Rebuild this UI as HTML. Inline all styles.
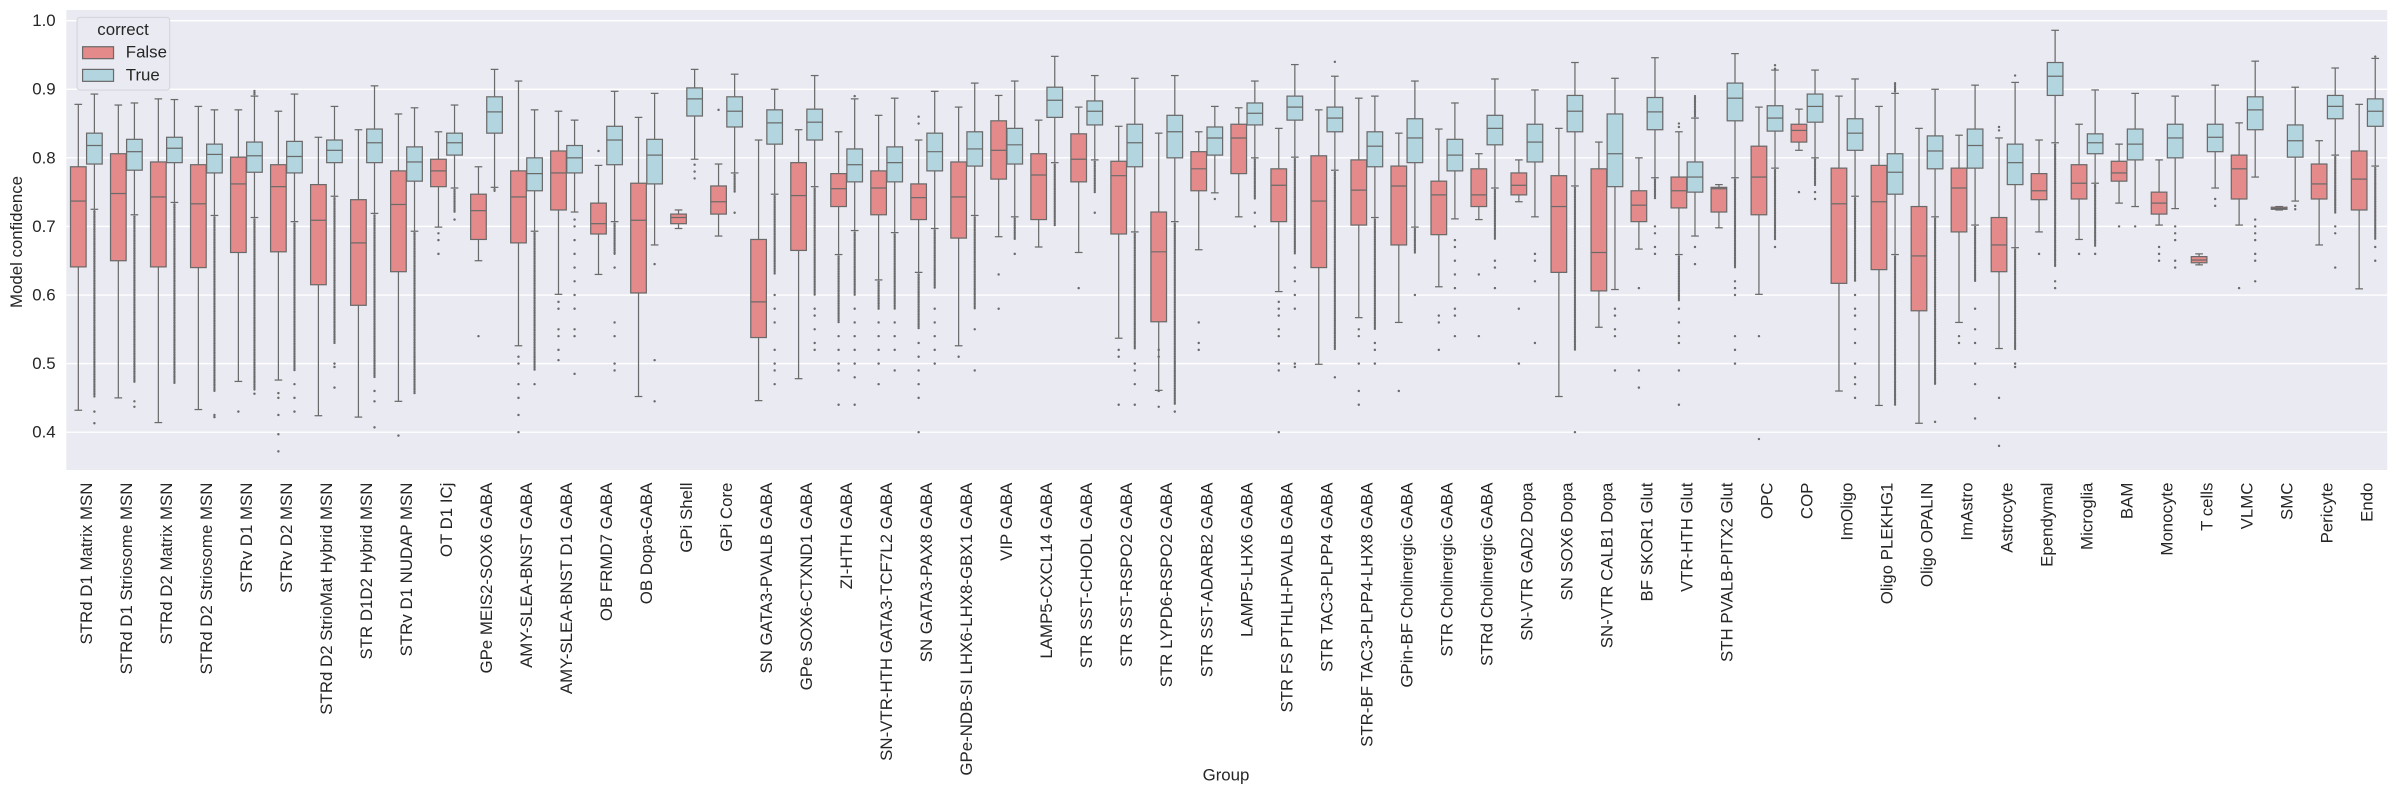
<!DOCTYPE html>
<html><head><meta charset="utf-8"><style>
html,body{margin:0;padding:0;background:#fff;}
svg{display:block;font-family:"Liberation Sans","DejaVu Sans",sans-serif;}
</style></head><body>
<svg id="chart" width="2403" height="792" viewBox="0 0 1568 517" xmlns="http://www.w3.org/2000/svg">
<rect x="43" y="6.5" width="1515" height="300.3" fill="#EAEAF2"/>
<g id="grid"></g>
<g id="yticks"></g>
<g id="boxes"></g>
<g id="xlabels"></g>
<text x="10.5" y="158" font-size="11" fill="#262626" text-anchor="middle" dominant-baseline="central" transform="rotate(-90 10.5 158)">Model confidence</text>
<text x="800" y="506" font-size="11" fill="#262626" text-anchor="middle" dominant-baseline="central">Group</text>
<g>
<rect x="50" y="11.3" width="60.5" height="47.5" rx="2" fill="#EAEAF2" stroke="#d0d0d8" stroke-width="0.6"/>
<text x="80" y="23" font-size="11" fill="#262626" text-anchor="middle">correct</text>
<rect x="53.6" y="30.5" width="20.2" height="7.8" fill="#E48A8A" stroke="#6a6a6a" stroke-width="0.8"/>
<text x="81.8" y="37.6" font-size="11" fill="#262626">False</text>
<rect x="53.6" y="45.3" width="20.2" height="7.8" fill="#B2D5DF" stroke="#6a6a6a" stroke-width="0.8"/>
<text x="81.8" y="52.4" font-size="11" fill="#262626">True</text>
</g>
</svg>
<script>
const categories = ["STRd D1 Matrix MSN","STRd D1 Striosome MSN","STRd D2 Matrix MSN","STRd D2 Striosome MSN","STRv D1 MSN","STRv D2 MSN","STRd D2 StrioMat Hybrid MSN","STR D1D2 Hybrid MSN","STRv D1 NUDAP MSN","OT D1 ICj","GPe MEIS2-SOX6 GABA","AMY-SLEA-BNST GABA","AMY-SLEA-BNST D1 GABA","OB FRMD7 GABA","OB Dopa-GABA","GPi Shell","GPi Core","SN GATA3-PVALB GABA","GPe SOX6-CTXND1 GABA","ZI-HTH GABA","SN-VTR-HTH GATA3-TCF7L2 GABA","SN GATA3-PAX8 GABA","GPe-NDB-SI LHX6-LHX8-GBX1 GABA","VIP GABA","LAMP5-CXCL14 GABA","STR SST-CHODL GABA","STR SST-RSPO2 GABA","STR LYPD6-RSPO2 GABA","STR SST-ADARB2 GABA","LAMP5-LHX6 GABA","STR FS PTHLH-PVALB GABA","STR TAC3-PLPP4 GABA","STR-BF TAC3-PLPP4-LHX8 GABA","GPin-BF Cholinergic GABA","STR Cholinergic GABA","STRd Cholinergic GABA","SN-VTR GAD2 Dopa","SN SOX6 Dopa","SN-VTR CALB1 Dopa","BF SKOR1 Glut","VTR-HTH Glut","STH PVALB-PITX2 Glut","OPC","COP","ImOligo","Oligo PLEKHG1","Oligo OPALIN","ImAstro","Astrocyte","Ependymal","Microglia","BAM","Monocyte","T cells","VLMC","SMC","Pericyte","Endo"];
const yTicks = [0.4,0.5,0.6,0.7,0.8,0.9,1.0];
const yTickLabels = ["0.4","0.5","0.6","0.7","0.8","0.9","1.0"];
// False series [whiskerLow, q1, median, q3, whiskerHigh]
const falseBoxes = [
[.432,.641,.737,.787,.878],[.450,.650,.748,.806,.877],[.414,.641,.743,.794,.886],[.433,.640,.733,.790,.875],[.474,.662,.762,.801,.870],
[.476,.663,.758,.790,.868],[.424,.615,.709,.761,.830],[.422,.585,.676,.739,.841],[.445,.634,.732,.781,.864],[.699,.758,.781,.798,.838],
[.650,.681,.723,.747,.787],[.526,.676,.743,.781,.912],[.601,.724,.778,.810,.868],[.630,.689,.704,.734,.789],[.452,.603,.709,.763,.859],
[.697,.704,.713,.718,.724],[.686,.718,.736,.759,.791],[.446,.538,.590,.681,.826],[.478,.665,.745,.793,.841],[.659,.729,.755,.777,.838],
[.622,.717,.756,.781,.862],[.633,.710,.742,.762,.826],[.526,.683,.743,.794,.874],[.685,.769,.811,.854,.891],[.670,.710,.775,.806,.855],
[.662,.765,.798,.835,.874],[.537,.689,.774,.795,.846],[.461,.561,.663,.721,.836],[.666,.752,.784,.809,.838],[.714,.777,.829,.849,.873],
[.605,.707,.760,.784,.843],[.499,.640,.737,.803,.870],[.567,.702,.753,.797,.887],[.560,.673,.759,.788,.836],[.612,.688,.746,.766,.842],
[.710,.729,.746,.784,.806],[.736,.746,.760,.778,.797],[.452,.633,.729,.774,.843],[.553,.606,.662,.784,.823],[.667,.707,.731,.752,.800],
[.659,.727,.752,.772,.838],[.698,.721,.755,.757,.761],[.601,.717,.772,.817,.874],[.811,.823,.840,.849,.871],[.460,.617,.733,.785,.890],
[.439,.637,.736,.789,.875],[.413,.577,.657,.729,.843],[.560,.692,.756,.785,.833],[.522,.634,.673,.713,.829],[.692,.739,.752,.777,.826],
[.681,.740,.763,.790,.849],[.734,.766,.778,.795,.820],[.702,.718,.734,.750,.797],[.644,.647,.651,.656,.660],[.702,.740,.784,.804,.851],
[.724,.725,.726,.728,.729],[.673,.740,.762,.791,.825],[.609,.724,.769,.810,.878]];
// True series [whiskerLow, q1, median, q3, whiskerHigh]
const trueBoxes = [
[.725,.791,.818,.836,.893],[.717,.782,.809,.827,.880],[.735,.793,.814,.830,.885],[.716,.778,.805,.820,.870],[.713,.779,.803,.823,.890],
[.707,.778,.802,.824,.893],[.744,.793,.811,.826,.875],[.719,.793,.822,.842,.905],[.693,.766,.794,.816,.873],[.756,.804,.822,.836,.877],
[.757,.836,.867,.889,.929],[.693,.752,.777,.800,.870],[.721,.778,.800,.818,.855],[.707,.790,.826,.846,.897],[.673,.762,.804,.827,.894],
[.798,.861,.886,.902,.929],[.778,.845,.868,.889,.922],[.747,.820,.851,.870,.900],[.758,.826,.852,.871,.920],[.694,.765,.790,.813,.886],
[.691,.765,.793,.816,.887],[.697,.781,.809,.836,.897],[.716,.788,.813,.838,.909],[.714,.791,.819,.843,.912],[.793,.859,.884,.903,.948],
[.797,.848,.868,.883,.920],[.692,.787,.822,.849,.916],[.707,.800,.838,.862,.920],[.749,.804,.829,.845,.875],[.800,.848,.865,.880,.912],
[.801,.855,.874,.890,.936],[.782,.838,.858,.874,.919],[.713,.787,.817,.838,.890],[.699,.793,.829,.857,.912],[.711,.781,.804,.827,.880],
[.756,.819,.843,.862,.915],[.714,.794,.823,.849,.899],[.759,.838,.868,.891,.939],[.608,.758,.806,.864,.916],[.771,.841,.867,.888,.946],
[.686,.750,.772,.794,.858],[.771,.854,.887,.909,.952],[.785,.839,.858,.876,.928],[.800,.852,.875,.893,.928],[.744,.811,.836,.857,.915],
[.659,.747,.779,.806,.894],[.714,.784,.810,.832,.900],[.702,.785,.818,.842,.906],[.669,.761,.793,.820,.910],[.822,.891,.919,.939,.986],
[.763,.806,.822,.835,.899],[.729,.797,.820,.842,.894],[.726,.800,.829,.849,.890],[.756,.809,.830,.849,.906],[.772,.841,.870,.889,.941],
[.737,.801,.825,.848,.903],[.804,.857,.875,.891,.931],[.788,.846,.868,.886,.945]];
// dense outlier run: lowest value reached below lower whisker (0 = none)
const falseDenseLow = [0,0,0,0,0,0,0,0,0,0,0,0,0,0,0,0,0,0,0,.56,.58,.55,0,0,0,0,0,0,0,0,0,0,0,0,0,0,0,0,0,0,.59,0,0,0,0,0,0,0,0,0,0,0,0,0,0,0,0,0];
const trueDenseLow = [.45,.473,.47,.46,.46,.49,.53,.48,.455,.72,.75,.49,0,.66,0,0,.75,.63,.60,.60,.58,.61,.58,.68,.70,.75,.52,.44,0,.74,.66,.52,.55,.66,0,.68,0,.52,0,.74,0,.64,.68,.76,.62,.44,.47,.62,.52,.64,.67,0,0,0,0,0,.72,.68];
// dense outlier run above the upper whisker (0 = none)
const trueDenseHigh = [0,0,0,0,.90,0,0,0,0,0,0,0,0,0,0,0,0,0,0,0,0,0,0,0,0,0,0,0,0,0,0,0,0,0,0,0,0,0,0,0,.892,0,0,0,0,.91,0,0,0,0,.90,0,0,0,0,0,0,.95];
// sparse outliers
const falseOutliers = [[],[],[],[],[.43],[.457,.45,.425,.397,.372],[],[],[.395],[.69,.68,.66],
[.54],[.51,.50,.47,.45,.425,.40],[.59,.58,.55,.54,.52,.505],[.81],[],[],[.87],[],[],[.54,.52,.50,.49,.44],
[.56,.54,.52,.50,.47],[.53,.51,.49,.47,.45,.40,.86,.85],[.51],[.63,.58],[],[.61],[.52,.51,.44],[.52,.51,.46,.437],[.56,.53,.52],[],
[.59,.58,.57,.55,.54,.50,.49,.40],[],[.55,.54,.50,.46,.44],[.46],[.57,.56,.52],[.63,.54],[.58,.50],[],[],[.61,.49,.465],
[.58,.56,.54,.53,.49,.44,.845,.85],[],[.54,.39],[.75],[],[],[],[.54,.53],[.84,.845,.45,.38],[.66],
[.66],[.70],[.67,.66,.65],[],[.61],[],[],[]];
const trueOutliers = [[.43,.413],[.445,.437],[],[.425,.422],[.456],[.47,.45,.43],[.50,.495,.465],[.46,.445,.407],[],[.71],
[],[.47],[.71,.70,.68,.66,.64,.62,.60,.58,.55,.54,.485],[.64,.56,.54,.50,.49],[.645,.505,.445],[.79,.78,.77],[.72],[.60,.58,.56,.52,.50,.49,.47],[.58,.57,.55,.53,.52],[.58,.56,.54,.52,.50,.48,.44,.89],
[.56,.54,.52,.49],[.58,.56,.54,.52,.50],[.55,.49],[.66],[],[.72],[.50,.49,.47,.44],[.43],[.74],[.72,.70],
[.64,.62,.60,.58,.50,.495],[.48,.94],[.53,.52,.50],[.60],[.68,.67,.65,.63,.61,.58,.57,.54],[.65,.64,.61],[.66,.65,.62,.53],[.40],[.58,.57,.55,.54,.49],[.70,.69,.67,.66],
[.67,.645],[.62,.61,.60,.54,.52,.50],[.67,.93,.935],[.75,.74],[.60,.58,.57,.55,.53,.50,.48,.47,.45],[],[.415],[.58,.55,.53,.50,.47,.42],[.50,.495,.92],[.62,.61],
[.66],[.70],[.70,.69,.68,.65,.64],[.73,.74],[.71,.70,.69,.68,.66,.65,.62],[.73,.725],[.70,.69,.64],[.67,.65]];

const NS = "http://www.w3.org/2000/svg";
const X0 = 43, X1 = 1558, band = (X1 - X0) / categories.length;
function yScale(v){ return 13.5 + (1 - v) * 447.7; }
function xCenter(i){ return X0 + (i + 0.5) * band; }
function mk(tag, attrs, parent){ const e = document.createElementNS(NS, tag); for (const k in attrs) e.setAttribute(k, attrs[k]); parent.appendChild(e); return e; }

const grid = document.getElementById('grid');
const yt = document.getElementById('yticks');
yTicks.forEach((v, k) => {
  const ln = mk('line', {x1: X0, x2: X1, y1: yScale(v), y2: yScale(v), stroke: '#fff', 'stroke-width': 0.9}, grid);
  
  
  const t = mk('text', {x: 36, y: yScale(v), 'font-size': 11, fill: '#262626', 'text-anchor': 'end', 'dominant-baseline': 'central'}, yt);
  t.textContent = yTickLabels[k];
  
  
});

const boxesG = document.getElementById('boxes');
const LC = '#6a6a6a', BW = 10.2, CAP = 5;
function drawBox(cx, s, fill, dense, denseHigh, outs, nm){
  const g = mk('g', {}, boxesG);
  
  
  const [lo, q1, md, q3, hi] = s;
  const sw = 0.8;
  mk('line', {x1: cx, x2: cx, y1: yScale(hi), y2: yScale(q3), stroke: LC, 'stroke-width': sw}, g);
  mk('line', {x1: cx, x2: cx, y1: yScale(q1), y2: yScale(lo), stroke: LC, 'stroke-width': sw}, g);
  mk('line', {x1: cx - CAP/2, x2: cx + CAP/2, y1: yScale(hi), y2: yScale(hi), stroke: LC, 'stroke-width': sw}, g);
  mk('line', {x1: cx - CAP/2, x2: cx + CAP/2, y1: yScale(lo), y2: yScale(lo), stroke: LC, 'stroke-width': sw}, g);
  mk('rect', {x: cx - BW/2, y: yScale(q3), width: BW, height: Math.max(0.8, yScale(q1) - yScale(q3)), fill: fill, stroke: LC, 'stroke-width': sw}, g);
  mk('line', {x1: cx - BW/2, x2: cx + BW/2, y1: yScale(md), y2: yScale(md), stroke: LC, 'stroke-width': sw}, g);
  if (dense > 0) {
    for (let y = yScale(lo) + 1.2; y <= yScale(dense); y += 1.1) mk('circle', {cx: cx, cy: y, r: 0.75, fill: LC}, g);
  }
  if (denseHigh > 0) {
    for (let y = yScale(hi) - 1.2; y >= yScale(denseHigh); y -= 1.1) mk('circle', {cx: cx, cy: y, r: 0.75, fill: LC}, g);
  }
  outs.forEach(v => mk('circle', {cx: cx, cy: yScale(v), r: 0.8, fill: LC}, g));
}
const xl = document.getElementById('xlabels');
categories.forEach((c, i) => {
  const cx = xCenter(i);
  drawBox(cx - 5.25, falseBoxes[i], '#E48A8A', falseDenseLow[i], 0, falseOutliers[i], 'box-false');
  drawBox(cx + 5.25, trueBoxes[i], '#B2D5DF', trueDenseLow[i], trueDenseHigh[i], trueOutliers[i], 'box-true');
  const t = mk('text', {x: cx, y: 315, 'font-size': 11, fill: '#262626', 'text-anchor': 'end', 'dominant-baseline': 'central', transform: 'rotate(-90 ' + cx + ' 315)'}, xl);
  t.textContent = c;
  
  
});
</script>
</body></html>
